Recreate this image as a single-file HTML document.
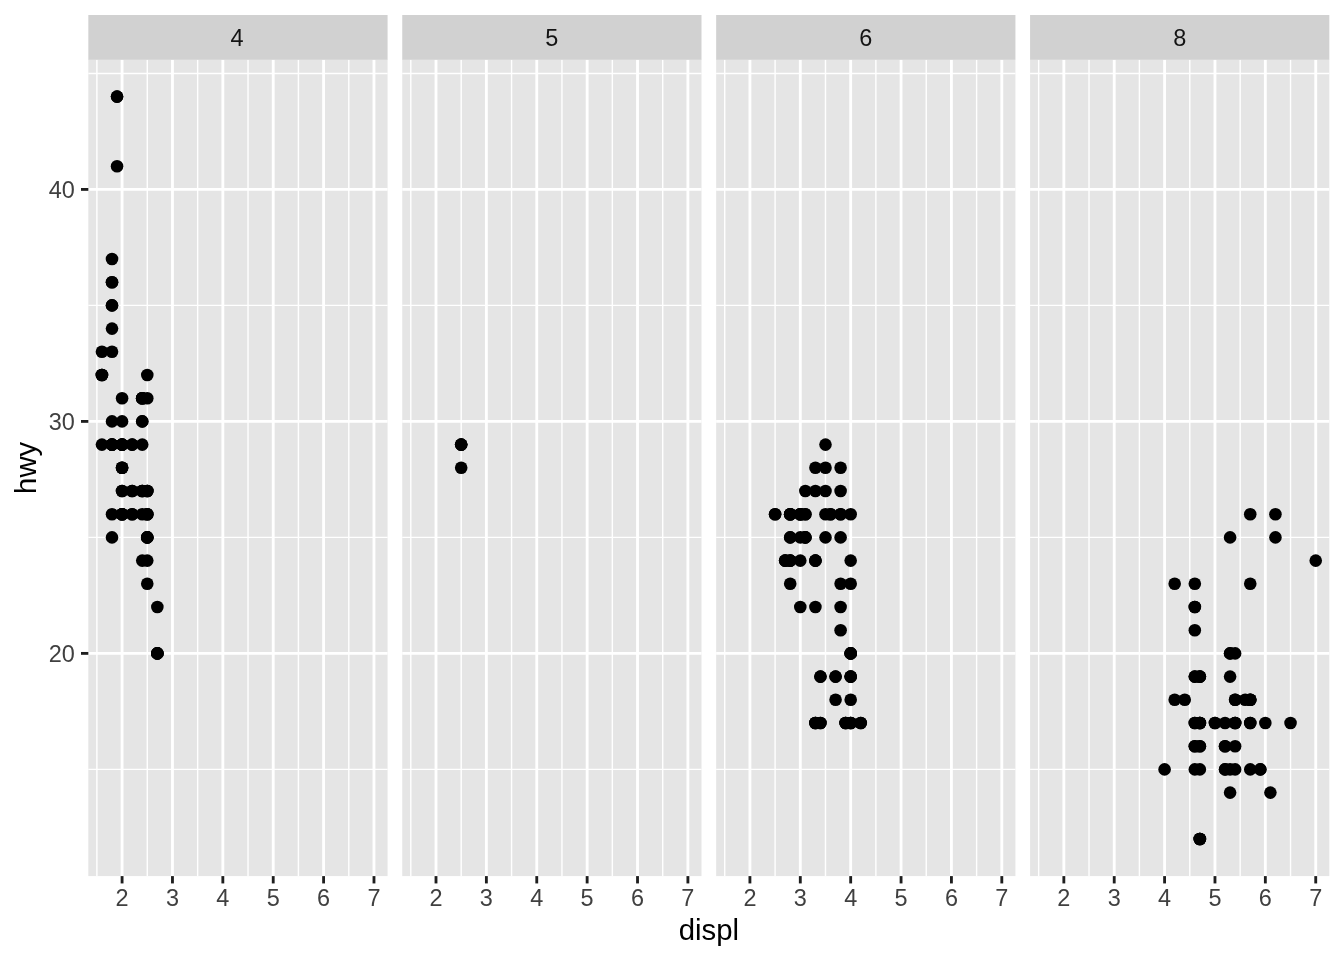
<!DOCTYPE html>
<html><head><meta charset="utf-8"><title>plot</title>
<style>
html,body{margin:0;padding:0;background:#fff;width:1344px;height:960px;overflow:hidden}
svg text{font-family:"Liberation Sans", sans-serif}
</style></head><body>
<svg width="1344" height="960" viewBox="0 0 1344 960" style="display:block;will-change:transform">
<rect x="0" y="0" width="1344" height="960" fill="#FFFFFF"/>
<rect x="88.33" y="59.50" width="299.25" height="816.60" fill="#E5E5E5"/>
<line x1="88.33" x2="387.58" y1="769.39" y2="769.39" stroke="#FFFFFF" stroke-width="1.42"/>
<line x1="88.33" x2="387.58" y1="537.40" y2="537.40" stroke="#FFFFFF" stroke-width="1.42"/>
<line x1="88.33" x2="387.58" y1="305.41" y2="305.41" stroke="#FFFFFF" stroke-width="1.42"/>
<line x1="88.33" x2="387.58" y1="73.42" y2="73.42" stroke="#FFFFFF" stroke-width="1.42"/>
<line x1="96.89" x2="96.89" y1="59.50" y2="876.10" stroke="#FFFFFF" stroke-width="1.42"/>
<line x1="147.27" x2="147.27" y1="59.50" y2="876.10" stroke="#FFFFFF" stroke-width="1.42"/>
<line x1="197.65" x2="197.65" y1="59.50" y2="876.10" stroke="#FFFFFF" stroke-width="1.42"/>
<line x1="248.03" x2="248.03" y1="59.50" y2="876.10" stroke="#FFFFFF" stroke-width="1.42"/>
<line x1="298.41" x2="298.41" y1="59.50" y2="876.10" stroke="#FFFFFF" stroke-width="1.42"/>
<line x1="348.79" x2="348.79" y1="59.50" y2="876.10" stroke="#FFFFFF" stroke-width="1.42"/>
<line x1="88.33" x2="387.58" y1="653.39" y2="653.39" stroke="#FFFFFF" stroke-width="2.845"/>
<line x1="88.33" x2="387.58" y1="421.40" y2="421.40" stroke="#FFFFFF" stroke-width="2.845"/>
<line x1="88.33" x2="387.58" y1="189.41" y2="189.41" stroke="#FFFFFF" stroke-width="2.845"/>
<line x1="122.08" x2="122.08" y1="59.50" y2="876.10" stroke="#FFFFFF" stroke-width="2.845"/>
<line x1="172.46" x2="172.46" y1="59.50" y2="876.10" stroke="#FFFFFF" stroke-width="2.845"/>
<line x1="222.84" x2="222.84" y1="59.50" y2="876.10" stroke="#FFFFFF" stroke-width="2.845"/>
<line x1="273.22" x2="273.22" y1="59.50" y2="876.10" stroke="#FFFFFF" stroke-width="2.845"/>
<line x1="323.60" x2="323.60" y1="59.50" y2="876.10" stroke="#FFFFFF" stroke-width="2.845"/>
<line x1="373.98" x2="373.98" y1="59.50" y2="876.10" stroke="#FFFFFF" stroke-width="2.845"/>
<circle cx="112.01" cy="444.60" r="6.3"/>
<circle cx="112.01" cy="444.60" r="6.3"/>
<circle cx="112.01" cy="444.60" r="6.3"/>
<circle cx="112.01" cy="444.60" r="6.3"/>
<circle cx="122.08" cy="398.20" r="6.3"/>
<circle cx="122.08" cy="421.40" r="6.3"/>
<circle cx="112.01" cy="514.20" r="6.3"/>
<circle cx="112.01" cy="537.40" r="6.3"/>
<circle cx="122.08" cy="467.80" r="6.3"/>
<circle cx="122.08" cy="467.80" r="6.3"/>
<circle cx="122.08" cy="467.80" r="6.3"/>
<circle cx="122.08" cy="491.00" r="6.3"/>
<circle cx="122.08" cy="491.00" r="6.3"/>
<circle cx="142.24" cy="491.00" r="6.3"/>
<circle cx="142.24" cy="491.00" r="6.3"/>
<circle cx="142.24" cy="491.00" r="6.3"/>
<circle cx="142.24" cy="421.40" r="6.3"/>
<circle cx="142.24" cy="421.40" r="6.3"/>
<circle cx="142.24" cy="560.60" r="6.3"/>
<circle cx="101.93" cy="351.81" r="6.3"/>
<circle cx="101.93" cy="375.00" r="6.3"/>
<circle cx="101.93" cy="375.00" r="6.3"/>
<circle cx="101.93" cy="375.00" r="6.3"/>
<circle cx="101.93" cy="444.60" r="6.3"/>
<circle cx="112.01" cy="328.61" r="6.3"/>
<circle cx="112.01" cy="282.21" r="6.3"/>
<circle cx="112.01" cy="282.21" r="6.3"/>
<circle cx="122.08" cy="444.60" r="6.3"/>
<circle cx="122.08" cy="444.60" r="6.3"/>
<circle cx="122.08" cy="444.60" r="6.3"/>
<circle cx="122.08" cy="444.60" r="6.3"/>
<circle cx="142.24" cy="514.20" r="6.3"/>
<circle cx="142.24" cy="398.20" r="6.3"/>
<circle cx="142.24" cy="398.20" r="6.3"/>
<circle cx="142.24" cy="398.20" r="6.3"/>
<circle cx="142.24" cy="398.20" r="6.3"/>
<circle cx="122.08" cy="514.20" r="6.3"/>
<circle cx="122.08" cy="514.20" r="6.3"/>
<circle cx="122.08" cy="514.20" r="6.3"/>
<circle cx="122.08" cy="514.20" r="6.3"/>
<circle cx="147.27" cy="398.20" r="6.3"/>
<circle cx="147.27" cy="375.00" r="6.3"/>
<circle cx="147.27" cy="537.40" r="6.3"/>
<circle cx="147.27" cy="537.40" r="6.3"/>
<circle cx="147.27" cy="537.40" r="6.3"/>
<circle cx="147.27" cy="537.40" r="6.3"/>
<circle cx="147.27" cy="560.60" r="6.3"/>
<circle cx="147.27" cy="491.00" r="6.3"/>
<circle cx="147.27" cy="491.00" r="6.3"/>
<circle cx="147.27" cy="491.00" r="6.3"/>
<circle cx="147.27" cy="514.20" r="6.3"/>
<circle cx="147.27" cy="514.20" r="6.3"/>
<circle cx="147.27" cy="514.20" r="6.3"/>
<circle cx="147.27" cy="583.79" r="6.3"/>
<circle cx="132.16" cy="514.20" r="6.3"/>
<circle cx="132.16" cy="514.20" r="6.3"/>
<circle cx="157.35" cy="653.39" r="6.3"/>
<circle cx="157.35" cy="653.39" r="6.3"/>
<circle cx="157.35" cy="653.39" r="6.3"/>
<circle cx="157.35" cy="653.39" r="6.3"/>
<circle cx="157.35" cy="606.99" r="6.3"/>
<circle cx="132.16" cy="444.60" r="6.3"/>
<circle cx="132.16" cy="444.60" r="6.3"/>
<circle cx="132.16" cy="491.00" r="6.3"/>
<circle cx="132.16" cy="491.00" r="6.3"/>
<circle cx="112.01" cy="421.40" r="6.3"/>
<circle cx="112.01" cy="351.81" r="6.3"/>
<circle cx="112.01" cy="305.41" r="6.3"/>
<circle cx="112.01" cy="305.41" r="6.3"/>
<circle cx="112.01" cy="259.01" r="6.3"/>
<circle cx="117.05" cy="96.62" r="6.3"/>
<circle cx="117.05" cy="96.62" r="6.3"/>
<circle cx="117.05" cy="166.21" r="6.3"/>
<circle cx="142.24" cy="444.60" r="6.3"/>
<rect x="88.33" y="15.00" width="299.25" height="44.80" fill="#D1D1D1"/>
<text x="237.06" y="46.1" font-size="23.47" fill="#141414" text-anchor="middle">4</text>
<line x1="122.08" x2="122.08" y1="876.10" y2="883.43" stroke="#1E1E1E" stroke-width="2.845"/>
<text x="122.08" y="905.8" font-size="23.47" fill="#404040" text-anchor="middle">2</text>
<line x1="172.46" x2="172.46" y1="876.10" y2="883.43" stroke="#1E1E1E" stroke-width="2.845"/>
<text x="172.46" y="905.8" font-size="23.47" fill="#404040" text-anchor="middle">3</text>
<line x1="222.84" x2="222.84" y1="876.10" y2="883.43" stroke="#1E1E1E" stroke-width="2.845"/>
<text x="222.84" y="905.8" font-size="23.47" fill="#404040" text-anchor="middle">4</text>
<line x1="273.22" x2="273.22" y1="876.10" y2="883.43" stroke="#1E1E1E" stroke-width="2.845"/>
<text x="273.22" y="905.8" font-size="23.47" fill="#404040" text-anchor="middle">5</text>
<line x1="323.60" x2="323.60" y1="876.10" y2="883.43" stroke="#1E1E1E" stroke-width="2.845"/>
<text x="323.60" y="905.8" font-size="23.47" fill="#404040" text-anchor="middle">6</text>
<line x1="373.98" x2="373.98" y1="876.10" y2="883.43" stroke="#1E1E1E" stroke-width="2.845"/>
<text x="373.98" y="905.8" font-size="23.47" fill="#404040" text-anchor="middle">7</text>
<rect x="402.25" y="59.50" width="299.25" height="816.60" fill="#E5E5E5"/>
<line x1="402.25" x2="701.50" y1="769.39" y2="769.39" stroke="#FFFFFF" stroke-width="1.42"/>
<line x1="402.25" x2="701.50" y1="537.40" y2="537.40" stroke="#FFFFFF" stroke-width="1.42"/>
<line x1="402.25" x2="701.50" y1="305.41" y2="305.41" stroke="#FFFFFF" stroke-width="1.42"/>
<line x1="402.25" x2="701.50" y1="73.42" y2="73.42" stroke="#FFFFFF" stroke-width="1.42"/>
<line x1="410.81" x2="410.81" y1="59.50" y2="876.10" stroke="#FFFFFF" stroke-width="1.42"/>
<line x1="461.19" x2="461.19" y1="59.50" y2="876.10" stroke="#FFFFFF" stroke-width="1.42"/>
<line x1="511.57" x2="511.57" y1="59.50" y2="876.10" stroke="#FFFFFF" stroke-width="1.42"/>
<line x1="561.95" x2="561.95" y1="59.50" y2="876.10" stroke="#FFFFFF" stroke-width="1.42"/>
<line x1="612.33" x2="612.33" y1="59.50" y2="876.10" stroke="#FFFFFF" stroke-width="1.42"/>
<line x1="662.71" x2="662.71" y1="59.50" y2="876.10" stroke="#FFFFFF" stroke-width="1.42"/>
<line x1="402.25" x2="701.50" y1="653.39" y2="653.39" stroke="#FFFFFF" stroke-width="2.845"/>
<line x1="402.25" x2="701.50" y1="421.40" y2="421.40" stroke="#FFFFFF" stroke-width="2.845"/>
<line x1="402.25" x2="701.50" y1="189.41" y2="189.41" stroke="#FFFFFF" stroke-width="2.845"/>
<line x1="436.00" x2="436.00" y1="59.50" y2="876.10" stroke="#FFFFFF" stroke-width="2.845"/>
<line x1="486.38" x2="486.38" y1="59.50" y2="876.10" stroke="#FFFFFF" stroke-width="2.845"/>
<line x1="536.76" x2="536.76" y1="59.50" y2="876.10" stroke="#FFFFFF" stroke-width="2.845"/>
<line x1="587.14" x2="587.14" y1="59.50" y2="876.10" stroke="#FFFFFF" stroke-width="2.845"/>
<line x1="637.52" x2="637.52" y1="59.50" y2="876.10" stroke="#FFFFFF" stroke-width="2.845"/>
<line x1="687.90" x2="687.90" y1="59.50" y2="876.10" stroke="#FFFFFF" stroke-width="2.845"/>
<circle cx="461.19" cy="444.60" r="6.3"/>
<circle cx="461.19" cy="444.60" r="6.3"/>
<circle cx="461.19" cy="444.60" r="6.3"/>
<circle cx="461.19" cy="467.80" r="6.3"/>
<rect x="402.25" y="15.00" width="299.25" height="44.80" fill="#D1D1D1"/>
<text x="551.87" y="46.1" font-size="23.47" fill="#141414" text-anchor="middle">5</text>
<line x1="436.00" x2="436.00" y1="876.10" y2="883.43" stroke="#1E1E1E" stroke-width="2.845"/>
<text x="436.00" y="905.8" font-size="23.47" fill="#404040" text-anchor="middle">2</text>
<line x1="486.38" x2="486.38" y1="876.10" y2="883.43" stroke="#1E1E1E" stroke-width="2.845"/>
<text x="486.38" y="905.8" font-size="23.47" fill="#404040" text-anchor="middle">3</text>
<line x1="536.76" x2="536.76" y1="876.10" y2="883.43" stroke="#1E1E1E" stroke-width="2.845"/>
<text x="536.76" y="905.8" font-size="23.47" fill="#404040" text-anchor="middle">4</text>
<line x1="587.14" x2="587.14" y1="876.10" y2="883.43" stroke="#1E1E1E" stroke-width="2.845"/>
<text x="587.14" y="905.8" font-size="23.47" fill="#404040" text-anchor="middle">5</text>
<line x1="637.52" x2="637.52" y1="876.10" y2="883.43" stroke="#1E1E1E" stroke-width="2.845"/>
<text x="637.52" y="905.8" font-size="23.47" fill="#404040" text-anchor="middle">6</text>
<line x1="687.90" x2="687.90" y1="876.10" y2="883.43" stroke="#1E1E1E" stroke-width="2.845"/>
<text x="687.90" y="905.8" font-size="23.47" fill="#404040" text-anchor="middle">7</text>
<rect x="716.17" y="59.50" width="299.25" height="816.60" fill="#E5E5E5"/>
<line x1="716.17" x2="1015.42" y1="769.39" y2="769.39" stroke="#FFFFFF" stroke-width="1.42"/>
<line x1="716.17" x2="1015.42" y1="537.40" y2="537.40" stroke="#FFFFFF" stroke-width="1.42"/>
<line x1="716.17" x2="1015.42" y1="305.41" y2="305.41" stroke="#FFFFFF" stroke-width="1.42"/>
<line x1="716.17" x2="1015.42" y1="73.42" y2="73.42" stroke="#FFFFFF" stroke-width="1.42"/>
<line x1="724.73" x2="724.73" y1="59.50" y2="876.10" stroke="#FFFFFF" stroke-width="1.42"/>
<line x1="775.11" x2="775.11" y1="59.50" y2="876.10" stroke="#FFFFFF" stroke-width="1.42"/>
<line x1="825.49" x2="825.49" y1="59.50" y2="876.10" stroke="#FFFFFF" stroke-width="1.42"/>
<line x1="875.87" x2="875.87" y1="59.50" y2="876.10" stroke="#FFFFFF" stroke-width="1.42"/>
<line x1="926.24" x2="926.24" y1="59.50" y2="876.10" stroke="#FFFFFF" stroke-width="1.42"/>
<line x1="976.62" x2="976.62" y1="59.50" y2="876.10" stroke="#FFFFFF" stroke-width="1.42"/>
<line x1="716.17" x2="1015.42" y1="653.39" y2="653.39" stroke="#FFFFFF" stroke-width="2.845"/>
<line x1="716.17" x2="1015.42" y1="421.40" y2="421.40" stroke="#FFFFFF" stroke-width="2.845"/>
<line x1="716.17" x2="1015.42" y1="189.41" y2="189.41" stroke="#FFFFFF" stroke-width="2.845"/>
<line x1="749.92" x2="749.92" y1="59.50" y2="876.10" stroke="#FFFFFF" stroke-width="2.845"/>
<line x1="800.30" x2="800.30" y1="59.50" y2="876.10" stroke="#FFFFFF" stroke-width="2.845"/>
<line x1="850.68" x2="850.68" y1="59.50" y2="876.10" stroke="#FFFFFF" stroke-width="2.845"/>
<line x1="901.06" x2="901.06" y1="59.50" y2="876.10" stroke="#FFFFFF" stroke-width="2.845"/>
<line x1="951.43" x2="951.43" y1="59.50" y2="876.10" stroke="#FFFFFF" stroke-width="2.845"/>
<line x1="1001.81" x2="1001.81" y1="59.50" y2="876.10" stroke="#FFFFFF" stroke-width="2.845"/>
<circle cx="790.22" cy="514.20" r="6.3"/>
<circle cx="790.22" cy="514.20" r="6.3"/>
<circle cx="790.22" cy="514.20" r="6.3"/>
<circle cx="790.22" cy="514.20" r="6.3"/>
<circle cx="805.34" cy="491.00" r="6.3"/>
<circle cx="790.22" cy="537.40" r="6.3"/>
<circle cx="790.22" cy="537.40" r="6.3"/>
<circle cx="805.34" cy="537.40" r="6.3"/>
<circle cx="805.34" cy="537.40" r="6.3"/>
<circle cx="805.34" cy="537.40" r="6.3"/>
<circle cx="790.22" cy="560.60" r="6.3"/>
<circle cx="790.22" cy="560.60" r="6.3"/>
<circle cx="790.22" cy="560.60" r="6.3"/>
<circle cx="805.34" cy="514.20" r="6.3"/>
<circle cx="805.34" cy="514.20" r="6.3"/>
<circle cx="825.49" cy="444.60" r="6.3"/>
<circle cx="830.53" cy="514.20" r="6.3"/>
<circle cx="830.53" cy="514.20" r="6.3"/>
<circle cx="800.30" cy="560.60" r="6.3"/>
<circle cx="815.41" cy="606.99" r="6.3"/>
<circle cx="815.41" cy="560.60" r="6.3"/>
<circle cx="815.41" cy="560.60" r="6.3"/>
<circle cx="815.41" cy="560.60" r="6.3"/>
<circle cx="815.41" cy="722.99" r="6.3"/>
<circle cx="815.41" cy="722.99" r="6.3"/>
<circle cx="815.41" cy="722.99" r="6.3"/>
<circle cx="840.60" cy="606.99" r="6.3"/>
<circle cx="840.60" cy="630.19" r="6.3"/>
<circle cx="840.60" cy="583.79" r="6.3"/>
<circle cx="850.68" cy="583.79" r="6.3"/>
<circle cx="835.56" cy="676.59" r="6.3"/>
<circle cx="835.56" cy="676.59" r="6.3"/>
<circle cx="835.56" cy="699.79" r="6.3"/>
<circle cx="845.64" cy="722.99" r="6.3"/>
<circle cx="845.64" cy="722.99" r="6.3"/>
<circle cx="845.64" cy="722.99" r="6.3"/>
<circle cx="850.68" cy="722.99" r="6.3"/>
<circle cx="850.68" cy="722.99" r="6.3"/>
<circle cx="850.68" cy="722.99" r="6.3"/>
<circle cx="850.68" cy="676.59" r="6.3"/>
<circle cx="850.68" cy="676.59" r="6.3"/>
<circle cx="850.68" cy="676.59" r="6.3"/>
<circle cx="860.75" cy="722.99" r="6.3"/>
<circle cx="860.75" cy="722.99" r="6.3"/>
<circle cx="840.60" cy="514.20" r="6.3"/>
<circle cx="840.60" cy="514.20" r="6.3"/>
<circle cx="840.60" cy="537.40" r="6.3"/>
<circle cx="850.68" cy="514.20" r="6.3"/>
<circle cx="850.68" cy="560.60" r="6.3"/>
<circle cx="775.11" cy="514.20" r="6.3"/>
<circle cx="775.11" cy="514.20" r="6.3"/>
<circle cx="815.41" cy="467.80" r="6.3"/>
<circle cx="785.18" cy="560.60" r="6.3"/>
<circle cx="785.18" cy="560.60" r="6.3"/>
<circle cx="785.18" cy="560.60" r="6.3"/>
<circle cx="800.30" cy="606.99" r="6.3"/>
<circle cx="850.68" cy="653.39" r="6.3"/>
<circle cx="850.68" cy="653.39" r="6.3"/>
<circle cx="850.68" cy="653.39" r="6.3"/>
<circle cx="850.68" cy="653.39" r="6.3"/>
<circle cx="825.49" cy="491.00" r="6.3"/>
<circle cx="825.49" cy="514.20" r="6.3"/>
<circle cx="800.30" cy="514.20" r="6.3"/>
<circle cx="800.30" cy="514.20" r="6.3"/>
<circle cx="800.30" cy="514.20" r="6.3"/>
<circle cx="800.30" cy="514.20" r="6.3"/>
<circle cx="800.30" cy="537.40" r="6.3"/>
<circle cx="825.49" cy="537.40" r="6.3"/>
<circle cx="820.45" cy="676.59" r="6.3"/>
<circle cx="820.45" cy="676.59" r="6.3"/>
<circle cx="820.45" cy="722.99" r="6.3"/>
<circle cx="820.45" cy="722.99" r="6.3"/>
<circle cx="825.49" cy="467.80" r="6.3"/>
<circle cx="815.41" cy="491.00" r="6.3"/>
<circle cx="850.68" cy="699.79" r="6.3"/>
<circle cx="790.22" cy="583.79" r="6.3"/>
<circle cx="840.60" cy="491.00" r="6.3"/>
<circle cx="840.60" cy="467.80" r="6.3"/>
<rect x="716.17" y="15.00" width="299.25" height="44.80" fill="#D1D1D1"/>
<text x="865.79" y="46.1" font-size="23.47" fill="#141414" text-anchor="middle">6</text>
<line x1="749.92" x2="749.92" y1="876.10" y2="883.43" stroke="#1E1E1E" stroke-width="2.845"/>
<text x="749.92" y="905.8" font-size="23.47" fill="#404040" text-anchor="middle">2</text>
<line x1="800.30" x2="800.30" y1="876.10" y2="883.43" stroke="#1E1E1E" stroke-width="2.845"/>
<text x="800.30" y="905.8" font-size="23.47" fill="#404040" text-anchor="middle">3</text>
<line x1="850.68" x2="850.68" y1="876.10" y2="883.43" stroke="#1E1E1E" stroke-width="2.845"/>
<text x="850.68" y="905.8" font-size="23.47" fill="#404040" text-anchor="middle">4</text>
<line x1="901.06" x2="901.06" y1="876.10" y2="883.43" stroke="#1E1E1E" stroke-width="2.845"/>
<text x="901.06" y="905.8" font-size="23.47" fill="#404040" text-anchor="middle">5</text>
<line x1="951.43" x2="951.43" y1="876.10" y2="883.43" stroke="#1E1E1E" stroke-width="2.845"/>
<text x="951.43" y="905.8" font-size="23.47" fill="#404040" text-anchor="middle">6</text>
<line x1="1001.81" x2="1001.81" y1="876.10" y2="883.43" stroke="#1E1E1E" stroke-width="2.845"/>
<text x="1001.81" y="905.8" font-size="23.47" fill="#404040" text-anchor="middle">7</text>
<rect x="1030.08" y="59.50" width="299.25" height="816.60" fill="#E5E5E5"/>
<line x1="1030.08" x2="1329.33" y1="769.39" y2="769.39" stroke="#FFFFFF" stroke-width="1.42"/>
<line x1="1030.08" x2="1329.33" y1="537.40" y2="537.40" stroke="#FFFFFF" stroke-width="1.42"/>
<line x1="1030.08" x2="1329.33" y1="305.41" y2="305.41" stroke="#FFFFFF" stroke-width="1.42"/>
<line x1="1030.08" x2="1329.33" y1="73.42" y2="73.42" stroke="#FFFFFF" stroke-width="1.42"/>
<line x1="1038.65" x2="1038.65" y1="59.50" y2="876.10" stroke="#FFFFFF" stroke-width="1.42"/>
<line x1="1089.03" x2="1089.03" y1="59.50" y2="876.10" stroke="#FFFFFF" stroke-width="1.42"/>
<line x1="1139.40" x2="1139.40" y1="59.50" y2="876.10" stroke="#FFFFFF" stroke-width="1.42"/>
<line x1="1189.78" x2="1189.78" y1="59.50" y2="876.10" stroke="#FFFFFF" stroke-width="1.42"/>
<line x1="1240.16" x2="1240.16" y1="59.50" y2="876.10" stroke="#FFFFFF" stroke-width="1.42"/>
<line x1="1290.54" x2="1290.54" y1="59.50" y2="876.10" stroke="#FFFFFF" stroke-width="1.42"/>
<line x1="1030.08" x2="1329.33" y1="653.39" y2="653.39" stroke="#FFFFFF" stroke-width="2.845"/>
<line x1="1030.08" x2="1329.33" y1="421.40" y2="421.40" stroke="#FFFFFF" stroke-width="2.845"/>
<line x1="1030.08" x2="1329.33" y1="189.41" y2="189.41" stroke="#FFFFFF" stroke-width="2.845"/>
<line x1="1063.84" x2="1063.84" y1="59.50" y2="876.10" stroke="#FFFFFF" stroke-width="2.845"/>
<line x1="1114.22" x2="1114.22" y1="59.50" y2="876.10" stroke="#FFFFFF" stroke-width="2.845"/>
<line x1="1164.59" x2="1164.59" y1="59.50" y2="876.10" stroke="#FFFFFF" stroke-width="2.845"/>
<line x1="1214.97" x2="1214.97" y1="59.50" y2="876.10" stroke="#FFFFFF" stroke-width="2.845"/>
<line x1="1265.35" x2="1265.35" y1="59.50" y2="876.10" stroke="#FFFFFF" stroke-width="2.845"/>
<line x1="1315.73" x2="1315.73" y1="59.50" y2="876.10" stroke="#FFFFFF" stroke-width="2.845"/>
<circle cx="1174.67" cy="583.79" r="6.3"/>
<circle cx="1230.09" cy="653.39" r="6.3"/>
<circle cx="1230.09" cy="653.39" r="6.3"/>
<circle cx="1230.09" cy="769.39" r="6.3"/>
<circle cx="1250.24" cy="722.99" r="6.3"/>
<circle cx="1250.24" cy="722.99" r="6.3"/>
<circle cx="1265.35" cy="722.99" r="6.3"/>
<circle cx="1250.24" cy="514.20" r="6.3"/>
<circle cx="1250.24" cy="583.79" r="6.3"/>
<circle cx="1275.43" cy="514.20" r="6.3"/>
<circle cx="1275.43" cy="537.40" r="6.3"/>
<circle cx="1315.73" cy="560.60" r="6.3"/>
<circle cx="1230.09" cy="676.59" r="6.3"/>
<circle cx="1230.09" cy="792.58" r="6.3"/>
<circle cx="1250.24" cy="769.39" r="6.3"/>
<circle cx="1290.54" cy="722.99" r="6.3"/>
<circle cx="1199.86" cy="676.59" r="6.3"/>
<circle cx="1199.86" cy="676.59" r="6.3"/>
<circle cx="1199.86" cy="676.59" r="6.3"/>
<circle cx="1199.86" cy="838.98" r="6.3"/>
<circle cx="1199.86" cy="838.98" r="6.3"/>
<circle cx="1199.86" cy="838.98" r="6.3"/>
<circle cx="1199.86" cy="838.98" r="6.3"/>
<circle cx="1225.05" cy="722.99" r="6.3"/>
<circle cx="1225.05" cy="769.39" r="6.3"/>
<circle cx="1225.05" cy="769.39" r="6.3"/>
<circle cx="1199.86" cy="722.99" r="6.3"/>
<circle cx="1199.86" cy="722.99" r="6.3"/>
<circle cx="1199.86" cy="722.99" r="6.3"/>
<circle cx="1199.86" cy="722.99" r="6.3"/>
<circle cx="1225.05" cy="746.19" r="6.3"/>
<circle cx="1225.05" cy="746.19" r="6.3"/>
<circle cx="1250.24" cy="699.79" r="6.3"/>
<circle cx="1250.24" cy="699.79" r="6.3"/>
<circle cx="1250.24" cy="699.79" r="6.3"/>
<circle cx="1260.31" cy="769.39" r="6.3"/>
<circle cx="1260.31" cy="769.39" r="6.3"/>
<circle cx="1199.86" cy="746.19" r="6.3"/>
<circle cx="1199.86" cy="746.19" r="6.3"/>
<circle cx="1194.82" cy="722.99" r="6.3"/>
<circle cx="1194.82" cy="722.99" r="6.3"/>
<circle cx="1235.12" cy="722.99" r="6.3"/>
<circle cx="1235.12" cy="722.99" r="6.3"/>
<circle cx="1235.12" cy="722.99" r="6.3"/>
<circle cx="1235.12" cy="699.79" r="6.3"/>
<circle cx="1235.12" cy="699.79" r="6.3"/>
<circle cx="1194.82" cy="676.59" r="6.3"/>
<circle cx="1194.82" cy="676.59" r="6.3"/>
<circle cx="1214.97" cy="722.99" r="6.3"/>
<circle cx="1214.97" cy="722.99" r="6.3"/>
<circle cx="1194.82" cy="746.19" r="6.3"/>
<circle cx="1194.82" cy="746.19" r="6.3"/>
<circle cx="1235.12" cy="769.39" r="6.3"/>
<circle cx="1194.82" cy="630.19" r="6.3"/>
<circle cx="1194.82" cy="606.99" r="6.3"/>
<circle cx="1194.82" cy="606.99" r="6.3"/>
<circle cx="1194.82" cy="583.79" r="6.3"/>
<circle cx="1235.12" cy="653.39" r="6.3"/>
<circle cx="1270.39" cy="792.58" r="6.3"/>
<circle cx="1164.59" cy="769.39" r="6.3"/>
<circle cx="1174.67" cy="699.79" r="6.3"/>
<circle cx="1184.75" cy="699.79" r="6.3"/>
<circle cx="1194.82" cy="769.39" r="6.3"/>
<circle cx="1235.12" cy="746.19" r="6.3"/>
<circle cx="1245.20" cy="699.79" r="6.3"/>
<circle cx="1230.09" cy="537.40" r="6.3"/>
<circle cx="1199.86" cy="769.39" r="6.3"/>
<rect x="1030.08" y="15.00" width="299.25" height="44.80" fill="#D1D1D1"/>
<text x="1179.71" y="46.1" font-size="23.47" fill="#141414" text-anchor="middle">8</text>
<line x1="1063.84" x2="1063.84" y1="876.10" y2="883.43" stroke="#1E1E1E" stroke-width="2.845"/>
<text x="1063.84" y="905.8" font-size="23.47" fill="#404040" text-anchor="middle">2</text>
<line x1="1114.22" x2="1114.22" y1="876.10" y2="883.43" stroke="#1E1E1E" stroke-width="2.845"/>
<text x="1114.22" y="905.8" font-size="23.47" fill="#404040" text-anchor="middle">3</text>
<line x1="1164.59" x2="1164.59" y1="876.10" y2="883.43" stroke="#1E1E1E" stroke-width="2.845"/>
<text x="1164.59" y="905.8" font-size="23.47" fill="#404040" text-anchor="middle">4</text>
<line x1="1214.97" x2="1214.97" y1="876.10" y2="883.43" stroke="#1E1E1E" stroke-width="2.845"/>
<text x="1214.97" y="905.8" font-size="23.47" fill="#404040" text-anchor="middle">5</text>
<line x1="1265.35" x2="1265.35" y1="876.10" y2="883.43" stroke="#1E1E1E" stroke-width="2.845"/>
<text x="1265.35" y="905.8" font-size="23.47" fill="#404040" text-anchor="middle">6</text>
<line x1="1315.73" x2="1315.73" y1="876.10" y2="883.43" stroke="#1E1E1E" stroke-width="2.845"/>
<text x="1315.73" y="905.8" font-size="23.47" fill="#404040" text-anchor="middle">7</text>
<line x1="81.00" x2="88.33" y1="653.39" y2="653.39" stroke="#1E1E1E" stroke-width="2.845"/>
<text x="74.8" y="661.99" font-size="23.47" fill="#404040" text-anchor="end">20</text>
<line x1="81.00" x2="88.33" y1="421.40" y2="421.40" stroke="#1E1E1E" stroke-width="2.845"/>
<text x="74.8" y="430.00" font-size="23.47" fill="#404040" text-anchor="end">30</text>
<line x1="81.00" x2="88.33" y1="189.41" y2="189.41" stroke="#1E1E1E" stroke-width="2.845"/>
<text x="74.8" y="198.01" font-size="23.47" fill="#404040" text-anchor="end">40</text>
<text x="708.83" y="939.7" font-size="29.33" fill="#000000" text-anchor="middle">displ</text>
<text transform="translate(35.6 467.80) rotate(-90)" x="0" y="0" font-size="29.33" fill="#000000" text-anchor="middle">hwy</text>
</svg>
</body></html>
